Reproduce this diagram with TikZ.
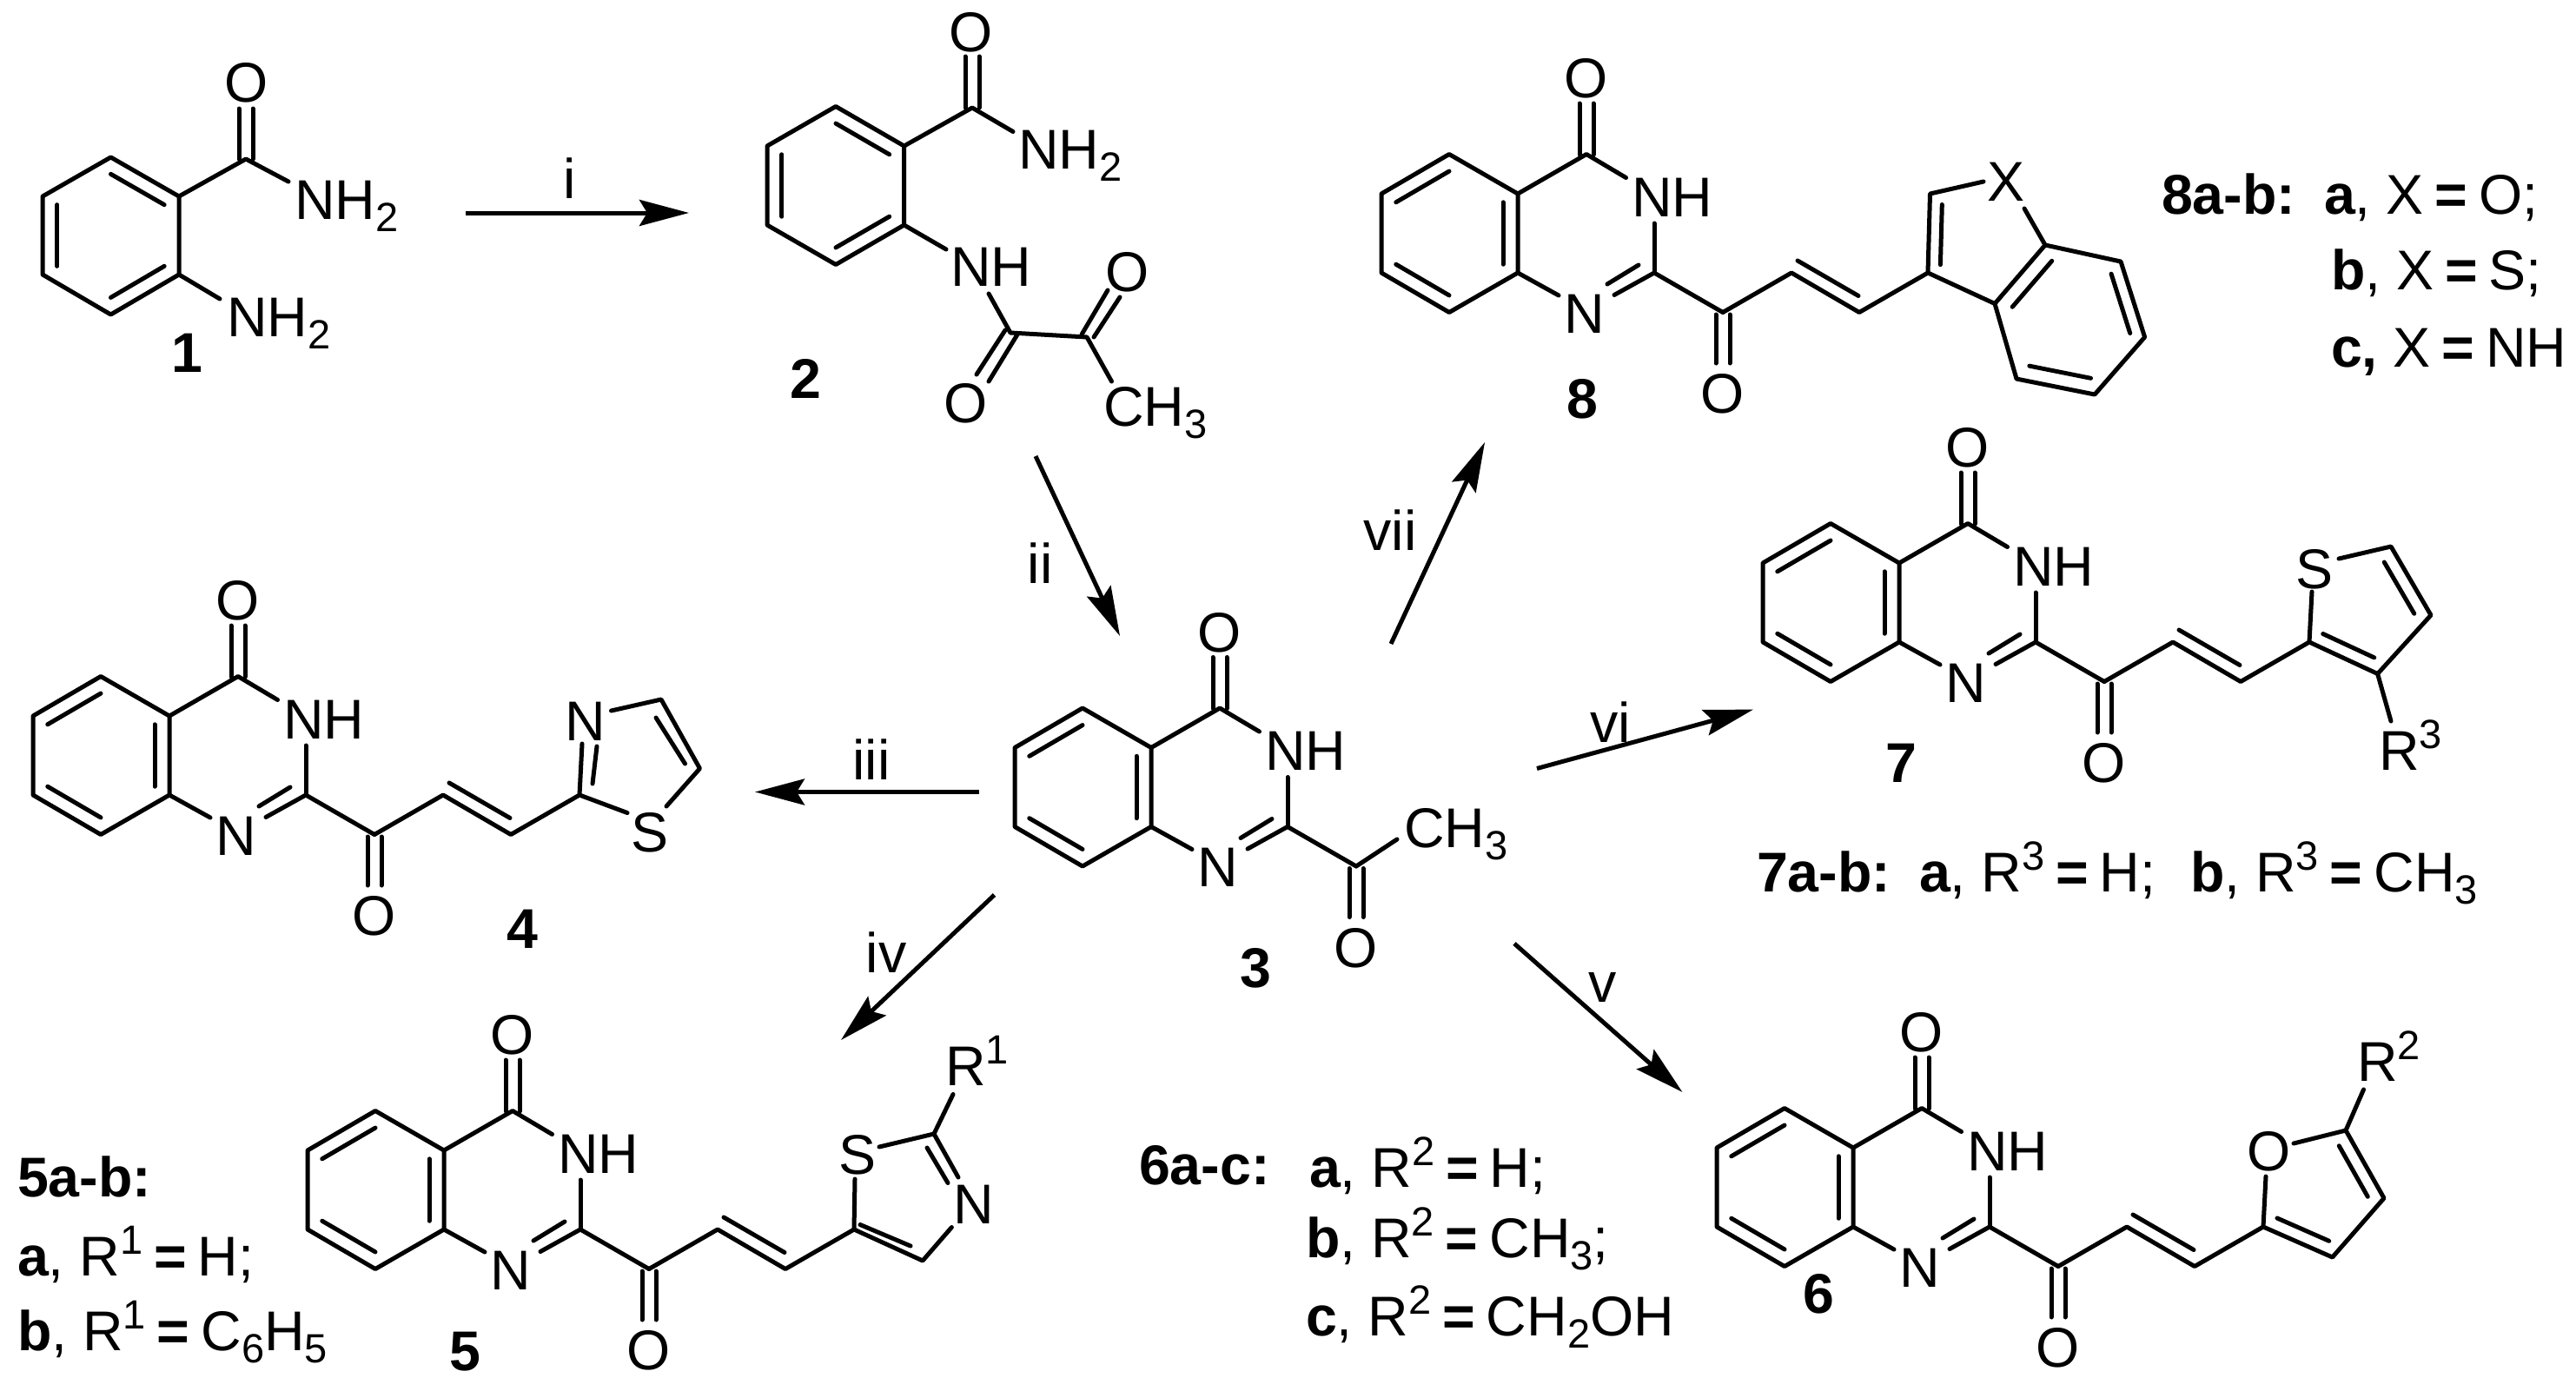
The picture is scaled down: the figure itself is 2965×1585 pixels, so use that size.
\documentclass[tikz,border=0pt]{standalone}
\usepackage{fontspec}
\setmainfont{Liberation Sans}
\usetikzlibrary{calc,arrows.meta}
\newcommand\chemfont{\fontsize{64.5}{70}\selectfont}
\newcommand\dn[1]{\raisebox{-14pt}{\fontsize{47}{47}\selectfont #1}}
\newcommand\up[1]{\raisebox{25pt}{\fontsize{47}{47}\selectfont #1}}
\newcommand\eqq{\hspace{-5pt}\textbf{=}\hspace{-5pt}}
\tikzset{
  bond/.style={line width=5pt,line cap=round,line join=round},
  rxn/.style={line width=5pt,-{Stealth[length=57pt,width=30pt,inset=9pt]}},
  atom/.style={inner sep=0pt,outer sep=0pt,font=\chemfont,anchor=base},
  lab/.style={inner sep=0pt,outer sep=0pt,font=\chemfont,anchor=base west},
  cmpd/.style={inner sep=0pt,outer sep=0pt,font=\chemfont\bfseries,anchor=base},
}
% inner line of a ring double bond: a, b, ring centre, ratio
\newcommand\rd[4][.215]{\draw[bond] ($(#2)!#1!(#4)$) -- ($(#3)!#1!(#4)$);}
% quinazolinone with the acyl carbon: name, x, y of C4a
\newcommand\quin[3]{%
\begin{scope}[shift={(#2,#3)}]
  \coordinate (#1a) at (0,0);
  \coordinate (#1b) at (0,91);
  \coordinate (#1c) at (-79,136.5);
  \coordinate (#1d) at (-157,91);
  \coordinate (#1e) at (-157,0);
  \coordinate (#1f) at (-79,-45.5);
  \coordinate (#1g) at (-79,45.5);
  \coordinate (#1h) at (79,-45.5);
  \coordinate (#1i) at (157,91);
  \coordinate (#1k) at (236,136.5);
  \draw[bond] (#1a)--(#1b)--(#1c)--(#1d)--(#1e)--(#1f)--cycle;
  \rd{#1a}{#1b}{#1g}
  \rd{#1c}{#1d}{#1g}
  \rd{#1e}{#1f}{#1g}
  \draw[bond] (#1a)--(#1h)--++(45.5,27);
  \draw[bond] (71,-45)--(71,-104) (87,-45)--(87,-104);
  \draw[bond] (#1i)--++(0,-57);
  \draw[bond] (#1b)--++(47,26);
  \draw[bond] (#1i)--++(-46,25.5);
  \draw[bond] ($(#1i)+(-18,-9)$)--++(-36,22);
  \draw[bond] (#1i)--(#1k);
  \draw[bond] (228,139)--(228,195) (244,139)--(244,195);
  \node[atom] (#1O) at (79,-110.5) {O};
  \node[lab] (#1NH) at (131,26) {NH};
  \node[atom] (#1N) at (77,160) {N};
  \node[atom] (#1P) at (236,252.5) {O};
\end{scope}}
% enone chain: name, x, y of C4a
\newcommand\enone[3]{%
\begin{scope}[shift={(#2,#3)}]
  \coordinate (#1m) at (315,91);
  \coordinate (#1n) at (393,136.5);
  \coordinate (#1r) at (472,91);
  \draw[bond] (#1k)--(#1m)--(#1n)--(#1r);
  \draw[bond] ($(#1m)+(7,-14)$)--($(#1n)+(-1,-19)$);
\end{scope}}
\begin{document}
\begin{tikzpicture}[x=1pt,y=-1pt]
\useasboundingbox (0,0) rectangle (2965,1585);
\fill[white] (0,0) rectangle (2965,1585);

% ---------- compound 1
\coordinate (aa) at (206,226);
\coordinate (ab) at (206,316);
\coordinate (ac) at (127.5,362);
\coordinate (ad) at (49,316);
\coordinate (ae) at (49,226);
\coordinate (af) at (127.5,181);
\coordinate (ag) at (127.5,271);
\coordinate (ah) at (283,183);
\draw[bond] (aa)--(ab)--(ac)--(ad)--(ae)--(af)--cycle;
\rd{aa}{af}{ag}
\rd{ab}{ac}{ag}
\rd{ad}{ae}{ag}
\draw[bond] (aa)--(ah)--(332,209);
\draw[bond] (275,183)--(275,125) (291,183)--(291,125);
\draw[bond] (ab)--(253,344);
\node[atom] (aO) at (284,117) {O};
\node[lab] (aNa) at (339,252) {NH\dn{2}};
\node[lab] (aNb) at (261,387) {NH\dn{2}};
\node[cmpd] (aL) at (215,428) {1};

% ---------- compound 2
\coordinate (ba) at (1040.6,168);
\coordinate (bb) at (1040.6,259);
\coordinate (bc) at (962,304.5);
\coordinate (bd) at (883,259);
\coordinate (be) at (883,168);
\coordinate (bf) at (962,122.5);
\coordinate (bg) at (962,213.5);
\coordinate (bh) at (1119,124);
\coordinate (bk) at (1163,383);
\coordinate (bm) at (1251,388);
\draw[bond] (ba)--(bb)--(bc)--(bd)--(be)--(bf)--cycle;
\rd{ba}{bf}{bg}
\rd{bb}{bc}{bg}
\rd{bd}{be}{bg}
\draw[bond] (ba)--(bh)--(1166,151.5);
\draw[bond] (1111,124)--(1111,65) (1127,124)--(1127,65);
\draw[bond] (bb)--(1089,287);
\draw[bond] (1138,338)--(bk)--(bm)--(1279.5,439);
\draw[bond] (1157,380)--(1124,431) (1171,385)--(1138,439);
\draw[bond] (1245,385)--(1275,334) (1259,388)--(1289,342);
\node[atom] (bO) at (1118,59) {O};
\node[lab] (bNa) at (1172,194) {NH\dn{2}};
\node[lab] (bNb) at (1094,329) {NH};
\node[atom] (bOa) at (1112,486) {O};
\node[atom] (bOb) at (1298,335) {O};
\node[lab] (bC) at (1270,490) {CH\dn{3}};
\node[cmpd] (bL) at (927,458) {2};

% ---------- compound 3
\quin{c}{1325}{860.5}
\draw[bond] (ck)--(1608,966);
\node[lab] (cC) at (1616,975) {CH\dn{3}};
\node[cmpd] (cL) at (1445,1136) {3};

% ---------- compound 4
\quin{d}{195}{824}
\enone{d}{195}{824}
\coordinate (dA) at (761,805);
\coordinate (dB) at (805.5,884.5);
\draw[bond] (dr)--(670,856);
\draw[bond] (687,859)--(682,902);
\draw[bond] (703.5,818)--(dA)--(dB)--(767,928);
\draw[bond] (755,826)--(788.5,879);
\draw[bond] (dr)--(722,935.5);
\node[atom] (dNr) at (674,852) {N};
\node[atom] (dS) at (748,980.5) {S};
\node[cmpd] (dL) at (601.5,1091) {4};

% ---------- compound 5
\quin{e}{511}{1324}
\enone{e}{511}{1324}
\coordinate (eA) at (1075,1305);
\coordinate (eB) at (1062,1451);
\draw[bond] (er)--(984,1357);
\draw[bond] (1012,1320)--(eA)--(1103,1355);
\draw[bond] (1067,1321)--(1091,1361.5);
\draw[bond] (1095.4,1412.5)--(eB)--(er);
\draw[bond] (1048,1434)--(990,1409.5);
\draw[bond] (eA)--(1097,1259.5);
\node[atom] (eS) at (987,1351) {S};
\node[atom] (eNr) at (1121,1408) {N};
\node[lab] (eR) at (1088,1249) {R\up{1}};
\node[cmpd] (eL) at (535,1577) {5};

% ---------- compound 6
\quin{f}{2133}{1321}
\enone{f}{2133}{1321}
\coordinate (fA) at (2700,1301);
\coordinate (fB) at (2744,1379);
\coordinate (fC) at (2684.6,1447);
\coordinate (fZ) at (2669,1372);
\draw[bond] (fr)--(2608,1354);
\draw[bond] (2640,1316)--(fA)--(fB)--(fC)--(fr);
\rd[.25]{fA}{fB}{fZ}
\rd[.25]{fC}{fr}{fZ}
\draw[bond] (fA)--(2720.5,1254);
\node[atom] (fOr) at (2611.6,1347) {O};
\node[lab] (fR) at (2713,1244) {R\up{2}};
\node[cmpd] (fL) at (2093,1511) {6};

% ---------- compound 7
\quin{g}{2186}{648}
\enone{g}{2186}{648}
\coordinate (gA) at (2752,629);
\coordinate (gB) at (2798,708);
\coordinate (gC) at (2736.6,775.5);
\coordinate (gZ) at (2721,701);
\draw[bond] (gr)--(2661,681);
\draw[bond] (2692,643)--(gA)--(gB)--(gC)--(gr);
\rd[.25]{gA}{gB}{gZ}
\rd[.25]{gC}{gr}{gZ}
\draw[bond] (gC)--(2752,830);
\node[atom] (gS) at (2664,677.6) {S};
\node[lab] (gR) at (2738,886) {R\up{3}};
\node[cmpd] (gL) at (2188,900) {7};

% ---------- compound 8
\quin{h}{1747}{223}
\enone{h}{1747}{223}
\coordinate (hA) at (2221.5,223);
\coordinate (hB) at (2354,282);
\coordinate (hC) at (2296,349.5);
\coordinate (hD) at (2441,301);
\coordinate (hE) at (2468.6,388);
\coordinate (hF) at (2411,454);
\coordinate (hG) at (2321,436);
\coordinate (hZ) at (2279,275);
\coordinate (hY) at (2390,367);
\draw[bond] (hr)--(hA)--(2283,209);
\draw[bond] (2330,240)--(hB)--(hD)--(hE)--(hF)--(hG)--(hC)--(hr);
\draw[bond] (hB)--(hC);
\rd[.24]{hr}{hA}{hZ}
\rd{hB}{hC}{hY}
\rd{hD}{hE}{hY}
\rd{hF}{hG}{hY}
\node[atom] (hX) at (2308.6,231) {X};
\node[cmpd] (hL) at (1821,481) {8};

% ---------- reaction arrows
\coordinate (ri1) at (536,245);   \coordinate (ri2) at (793,245);
\coordinate (rii1) at (1192,525); \coordinate (rii2) at (1289,732);
\coordinate (riii1) at (1126.5,911.5); \coordinate (riii2) at (869,911.5);
\coordinate (riv1) at (1144.5,1030); \coordinate (riv2) at (968,1197);
\coordinate (rv1) at (1743,1086); \coordinate (rv2) at (1936.5,1257);
\coordinate (rvi1) at (1769,884.5); \coordinate (rvi2) at (2018,816.6);
\coordinate (rvii1) at (1601,741); \coordinate (rvii2) at (1709,509);
\draw[rxn] (ri1)--(ri2);
\draw[rxn] (rii1)--(rii2);
\draw[rxn] (riii1)--(riii2);
\draw[rxn] (riv1)--(riv2);
\draw[rxn] (rv1)--(rv2);
\draw[rxn] (rvi1)--(rvi2);
\draw[rxn] (rvii1)--(rvii2);
\node[atom] (ti) at (656,228) {i};
\node[atom] (tii) at (1197,671) {ii};
\node[atom] (tiii) at (1003,897) {iii};
\node[atom] (tiv) at (1020,1119) {iv};
\node[atom] (tv) at (1845,1153) {v};
\node[atom] (tvi) at (1854,854) {vi};
\node[atom] (tvii) at (1600,633) {vii};

% ---------- substituent tables
\node[lab] (l8) at (2488,246) {\bfseries 8a-b:};
\node[lab] (l8a) at (2675,246) {\textbf{a}, X \eqq{} O;};
\node[lab] (l8b) at (2683,333) {\textbf{b}, X \eqq{} S;};
\node[lab] (l8c) at (2683,422) {\textbf{c,} X \eqq{} NH};
\node[lab] (l7) at (2022,1026) {\bfseries 7a-b:};
\node[lab] (l7a) at (2209,1026) {\textbf{a}, R\up{3} \eqq{} H;};
\node[lab] (l7b) at (2521,1026) {\textbf{b}, R\up{3} \eqq{} CH\dn{3}};
\node[lab] (l5) at (20,1377) {\bfseries 5a-b:};
\node[lab] (l5a) at (20,1468) {\textbf{a}, R\up{1} \eqq{} H;};
\node[lab] (l5b) at (20,1554) {\textbf{b}, R\up{1} \eqq{} C\dn{6}H\dn{5}};
\node[lab] (l6) at (1311,1363) {\bfseries 6a-c:};
\node[lab] (l6a) at (1507,1366) {\textbf{a}, R\up{2} \eqq{} H;};
\node[lab] (l6b) at (1503,1447) {\textbf{b}, R\up{2} \eqq{} CH\dn{3};};
\node[lab] (l6c) at (1503,1537) {\textbf{c}, R\up{2} \eqq{} CH\dn{2}OH};
\end{tikzpicture}
\end{document}
